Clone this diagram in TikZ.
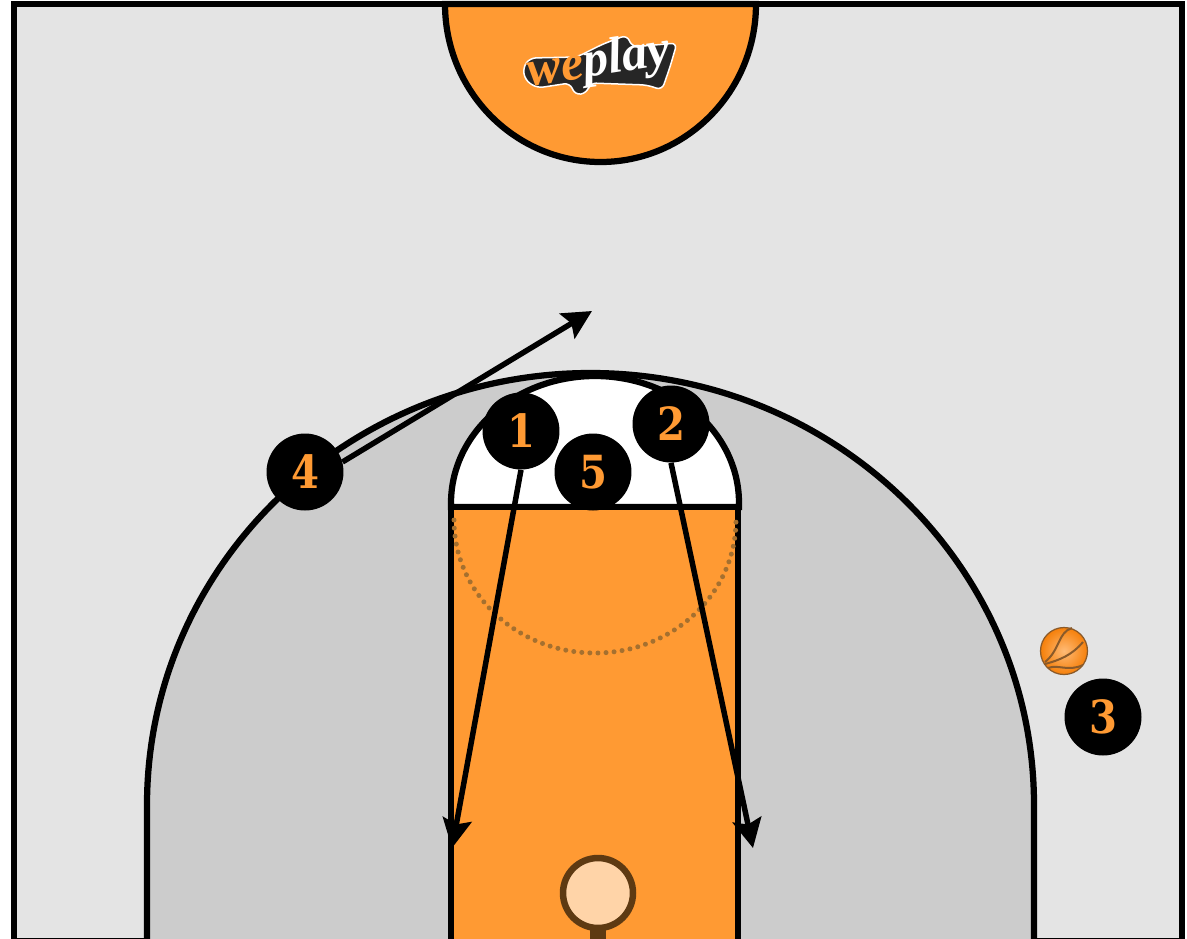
\documentclass[tikz,border=0pt]{standalone}
\usepackage{fontspec}
\usepackage{xcolor}
\usepackage{tikz}
\usetikzlibrary{arrows.meta, positioning}
\newfontfamily\playerfont[FakeStretch=0.88]{DejaVu Serif}
\newfontfamily\logofont{Liberation Serif}
\definecolor{floorgrey}{HTML}{E4E4E4}
\definecolor{paintgrey}{HTML}{CCCCCC}
\definecolor{courtorange}{HTML}{FF9A33}
\definecolor{hoopbrown}{HTML}{5E3A12}
\definecolor{hoopfill}{HTML}{FFD4A8}
\definecolor{dotbrown}{HTML}{A5702F}
\definecolor{seambrown}{HTML}{8A5A2A}

\begin{document}
\begin{tikzpicture}[
    x=0.02cm, y=-0.02cm,
    courtline/.style={draw=black, line width=0.125cm},
    player/.style={circle, fill=black, minimum size=1.54cm, inner sep=0pt, text=courtorange, font=\playerfont\bfseries\fontsize{26}{26}\selectfont},
    arrow/.style={-{Stealth[length=5.8mm, width=5.8mm, inset=1mm]}, line width=0.11cm},
    seam/.style={draw=seambrown, line width=0.04cm},
]
\useasboundingbox (0,0) rectangle (1187,938);
\clip (0,0) rectangle (1187,938);

% Floor
\fill[white] (0,0) rectangle (1187,938);
\path[courtline, fill=floorgrey] (14,4) rectangle (1182,941);

% Top half circle
\path[courtline, fill=courtorange] (445,4) arc[start angle=180, end angle=0, x radius=155.5, y radius=158] -- cycle;
\draw[line width=0.125cm] (14,4) -- (1182,4);

% Logo
\path[fill=black!85, draw=white, line width=0.03cm, rounded corners=0.12cm]
    (523,67) -- (530,58) -- (577,57) -- (603,44) -- (627,35) -- (632,47) -- (677,43) -- (670,67) -- (662,90)
    -- (647,85) -- (590,83) -- (587,93) -- (575,95) -- (570,83) -- (537,88) -- (525,80) -- cycle;
\node[rotate=9, inner sep=0pt, font=\logofont\bfseries\itshape\fontsize{29}{29}\selectfont] (logo) at (599,63) {\textcolor{courtorange}{we}\textcolor{white}{play}};

% Three point area
\path[courtline, fill=paintgrey] (147,942) -- (147,805) arc[start angle=180, end angle=360, x radius=443.5, y radius=432] -- (1034,942);

% Key and free throw circle
\path[courtline, fill=white] (451,507) -- (451,503) arc[start angle=180, end angle=360, x radius=144, y radius=127] -- (739,507) -- cycle;
\path[courtline, fill=courtorange] (451,942) -- (451,507) -- (738,507) -- (738,942);
\draw[draw=dotbrown, line width=0.1cm, line cap=round, dash pattern=on 0pt off 4.6pt] (454,520) arc[start angle=180, end angle=0, x radius=141, y radius=133];

% Hoop
\fill[hoopbrown] (590,925) rectangle (606,942);
\node[circle, draw=hoopbrown, fill=hoopfill, line width=0.13cm, minimum size=1.4cm, inner sep=0pt] (hoop) at (598,893) {};

% Ball
\node[circle, draw=seambrown, line width=0.025cm, minimum size=0.94cm, inner sep=0pt, inner color=hoopfill!70!orange, outer color=orange!85!brown] (ball) at (1064,651) {};
\draw[seam] (1072,628) .. controls (1058,632) and (1060,650) .. (1045,662);
\draw[seam] (1083,642) .. controls (1072,655) and (1060,660) .. (1045,664);
\draw[seam] (1048,668) .. controls (1058,664) and (1068,672) .. (1083,665);

% Players
\node[player] (p1) at (521,431) {1};
\node[player] (p2) at (671,424) {2};
\node[player] (p3) at (1103,717) {3};
\node[player] (p4) at (305,472) {4};
\node[player] (p5) at (593,472) {5};

% Cuts
\coordinate (cut1) at (452,848);
\coordinate (cut2) at (753,848);
\coordinate (cut4) at (592,311);
\draw[arrow] (p1.south) -- (cut1);
\draw[arrow] (p2.south) -- (cut2);
\draw[arrow] (p4.15) -- (cut4);
\end{tikzpicture}
\end{document}
